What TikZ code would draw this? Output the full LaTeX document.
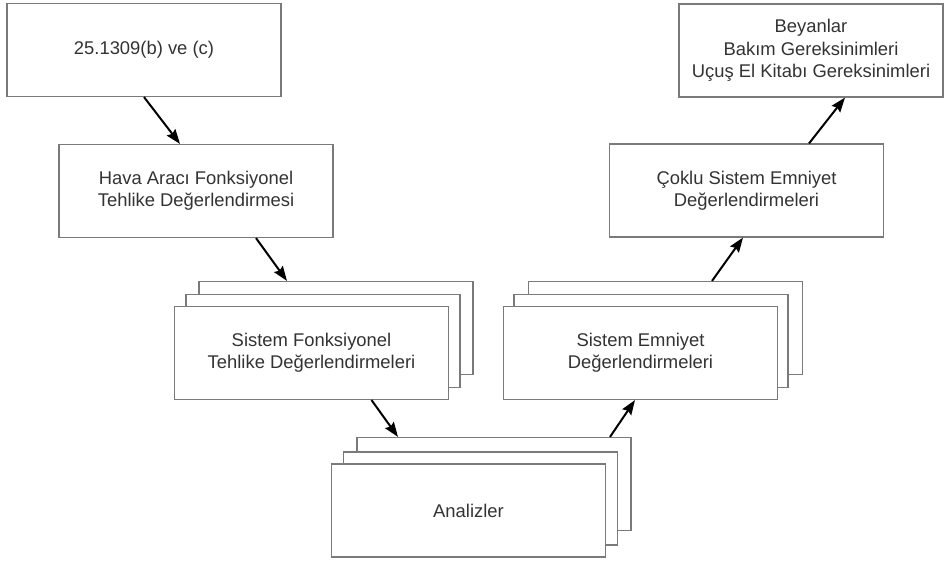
\documentclass[tikz,border=0pt]{standalone}
\usepackage{fontspec}
\setmainfont{Liberation Sans}
\usetikzlibrary{arrows.meta,calc}
\definecolor{kutugri}{HTML}{7A7A7A}
\definecolor{yazigri}{HTML}{333333}
\begin{document}
\begin{tikzpicture}[x=0.75pt,y=-0.75pt,
  blok/.style={draw=kutugri,line width=1.1pt,fill=white,minimum width=205.5pt,minimum height=69.5pt,
    align=center,text=yazigri,font=\fontsize{13.8}{16.8}\selectfont,inner sep=0pt},
  ok/.style={line width=1.5pt,-{Stealth[length=11pt,width=8pt,inset=1.5pt]}}]
\useasboundingbox (0,0) rectangle (945,560);
\node[blok] (kaynak) at (144,50) {25.1309(b) ve (c)};
\node[blok] (hava) at (196,191) {Hava Aracı Fonksiyonel\\Tehlike Değerlendirmesi};
\node[blok] (sfha3) at (336,328) {};
\node[blok] (sfha2) at (323,341) {};
\node[blok] (sfha) at (311.5,353) {Sistem Fonksiyonel\\Tehlike Değerlendirmeleri};
\node[blok] (analiz3) at (494,484) {};
\node[blok] (analiz2) at (480.5,498.5) {};
\node[blok] (analiz) at (468.5,510.5) {Analizler};
\node[blok] (sed3) at (665.5,328) {};
\node[blok] (sed2) at (651,341) {};
\node[blok] (sed) at (640.5,353) {Sistem Emniyet\\Değerlendirmeleri};
\node[blok] (coklu) at (746.5,190.5) {Çoklu Sistem Emniyet\\Değerlendirmeleri};
\node[blok,minimum width=198pt] (beyan) at (811,50.5) {Beyanlar\\Bakım Gereksinimleri\\Uçuş El Kitabı Gereksinimleri};
\draw[ok] (kaynak.south) -- ($(hava.north)+(-16,0)$);
\draw[ok] ($(hava.south)+(60,0)$) -- ($(sfha3.north)+(-49,0)$);
\draw[ok] ($(sfha.south)+(60,0)$) -- ($(analiz3.north)+(-96,0)$);
\draw[ok] ($(analiz3.north)+(116,0)$) -- ($(sed.south)+(-5.5,0)$);
\draw[ok] ($(sed3.north)+(46.5,0)$) -- ($(coklu.south)+(-3.5,0)$);
\draw[ok] ($(coklu.north)+(62.5,0)$) -- ($(beyan.south)+(34,0)$);
\end{tikzpicture}
\end{document}
